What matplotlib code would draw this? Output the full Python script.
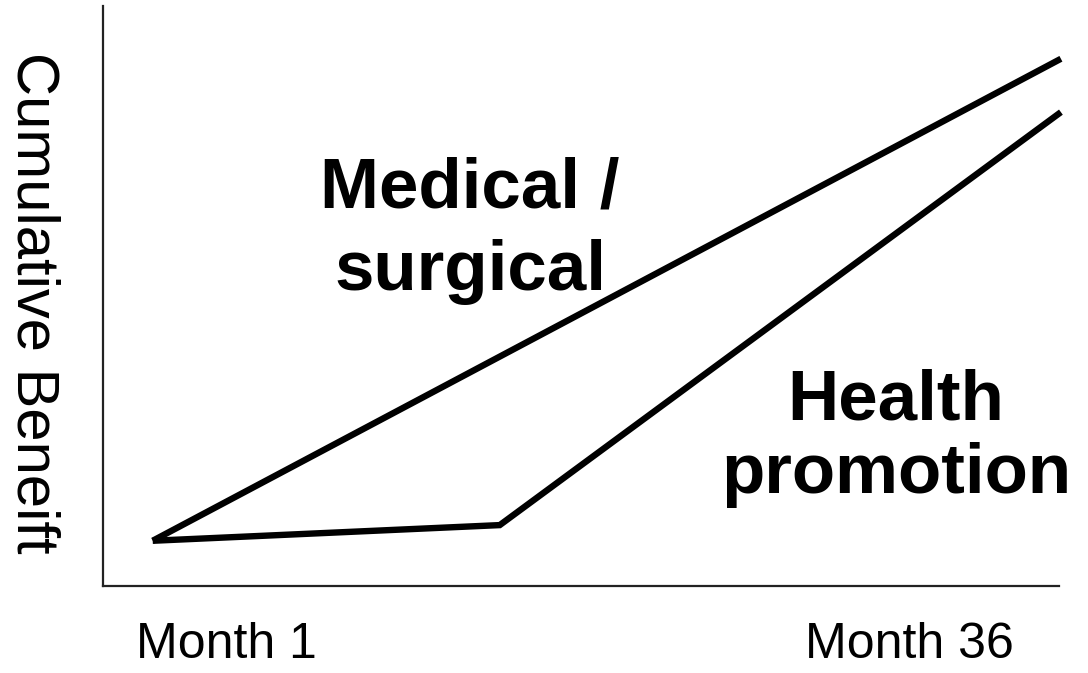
import matplotlib
matplotlib.use("Agg")
import matplotlib.pyplot as plt

plt.rcParams['font.family'] = ['Liberation Sans', 'DejaVu Sans']

# Data (arbitrary units; x: 0-100 timeline, y: 0-100 benefit)
medical_x = [5.2, 100.2]
medical_y = [7.8, 90.9]
health_x = [5.2, 41.5, 100.2]
health_y = [7.8, 10.5, 81.7]
tick_labels = ["Month 1", "Month 36"]
tick_pos = [12.9, 84.4]
series_labels = ["Medical /\nsurgical", "Health\npromotion"]
y_label = "Cumulative Beneift"

W, H = 1088, 673
fig = plt.figure(figsize=(W / 100, H / 100), dpi=100)

def fx(px):
    return px / W

def fy(py):
    return 1 - py / H

ax = fig.add_axes([fx(103), fy(586), fx(1059) - fx(103), fy(6) - fy(586)])
ax.set_xlim(0, 100)
ax.set_ylim(0, 100)
ax.spines['top'].set_visible(False)
ax.spines['right'].set_visible(False)
for s in ['left', 'bottom']:
    ax.spines[s].set_linewidth(1.6)
    ax.spines[s].set_color('#222222')
ax.set_yticks([])
ax.set_xticks(tick_pos)
ax.set_xticklabels([])
ax.tick_params(axis='x', length=0)

# tick labels placed at the tick positions (data x), fixed baseline in pixels
trans = matplotlib.transforms.blended_transform_factory(ax.transData, fig.transFigure)
for p, lab in zip(tick_pos, tick_labels):
    fig.text(p, fy(658), lab, transform=trans, ha='center', va='baseline',
             fontsize=36)

ax.plot(medical_x, medical_y, color='black', lw=4.6, solid_capstyle='butt',
        solid_joinstyle='miter', clip_on=False)
ax.plot(health_x, health_y, color='black', lw=4.6, solid_capstyle='butt',
        solid_joinstyle='miter', clip_on=False)

fig.text(fx(470), fy(290), series_labels[0], ha='center', va='baseline',
         fontsize=51, fontweight='bold', linespacing=1.325, multialignment='center')
fig.text(fx(896), fy(493), series_labels[1], ha='center', va='baseline',
         fontsize=51, fontweight='bold', linespacing=1.145, multialignment='center')

fig.text(fx(17), fy(303), y_label, rotation=-90, rotation_mode='anchor',
         ha='center', va='baseline', fontsize=43)

fig.savefig("out.png", dpi=100)
